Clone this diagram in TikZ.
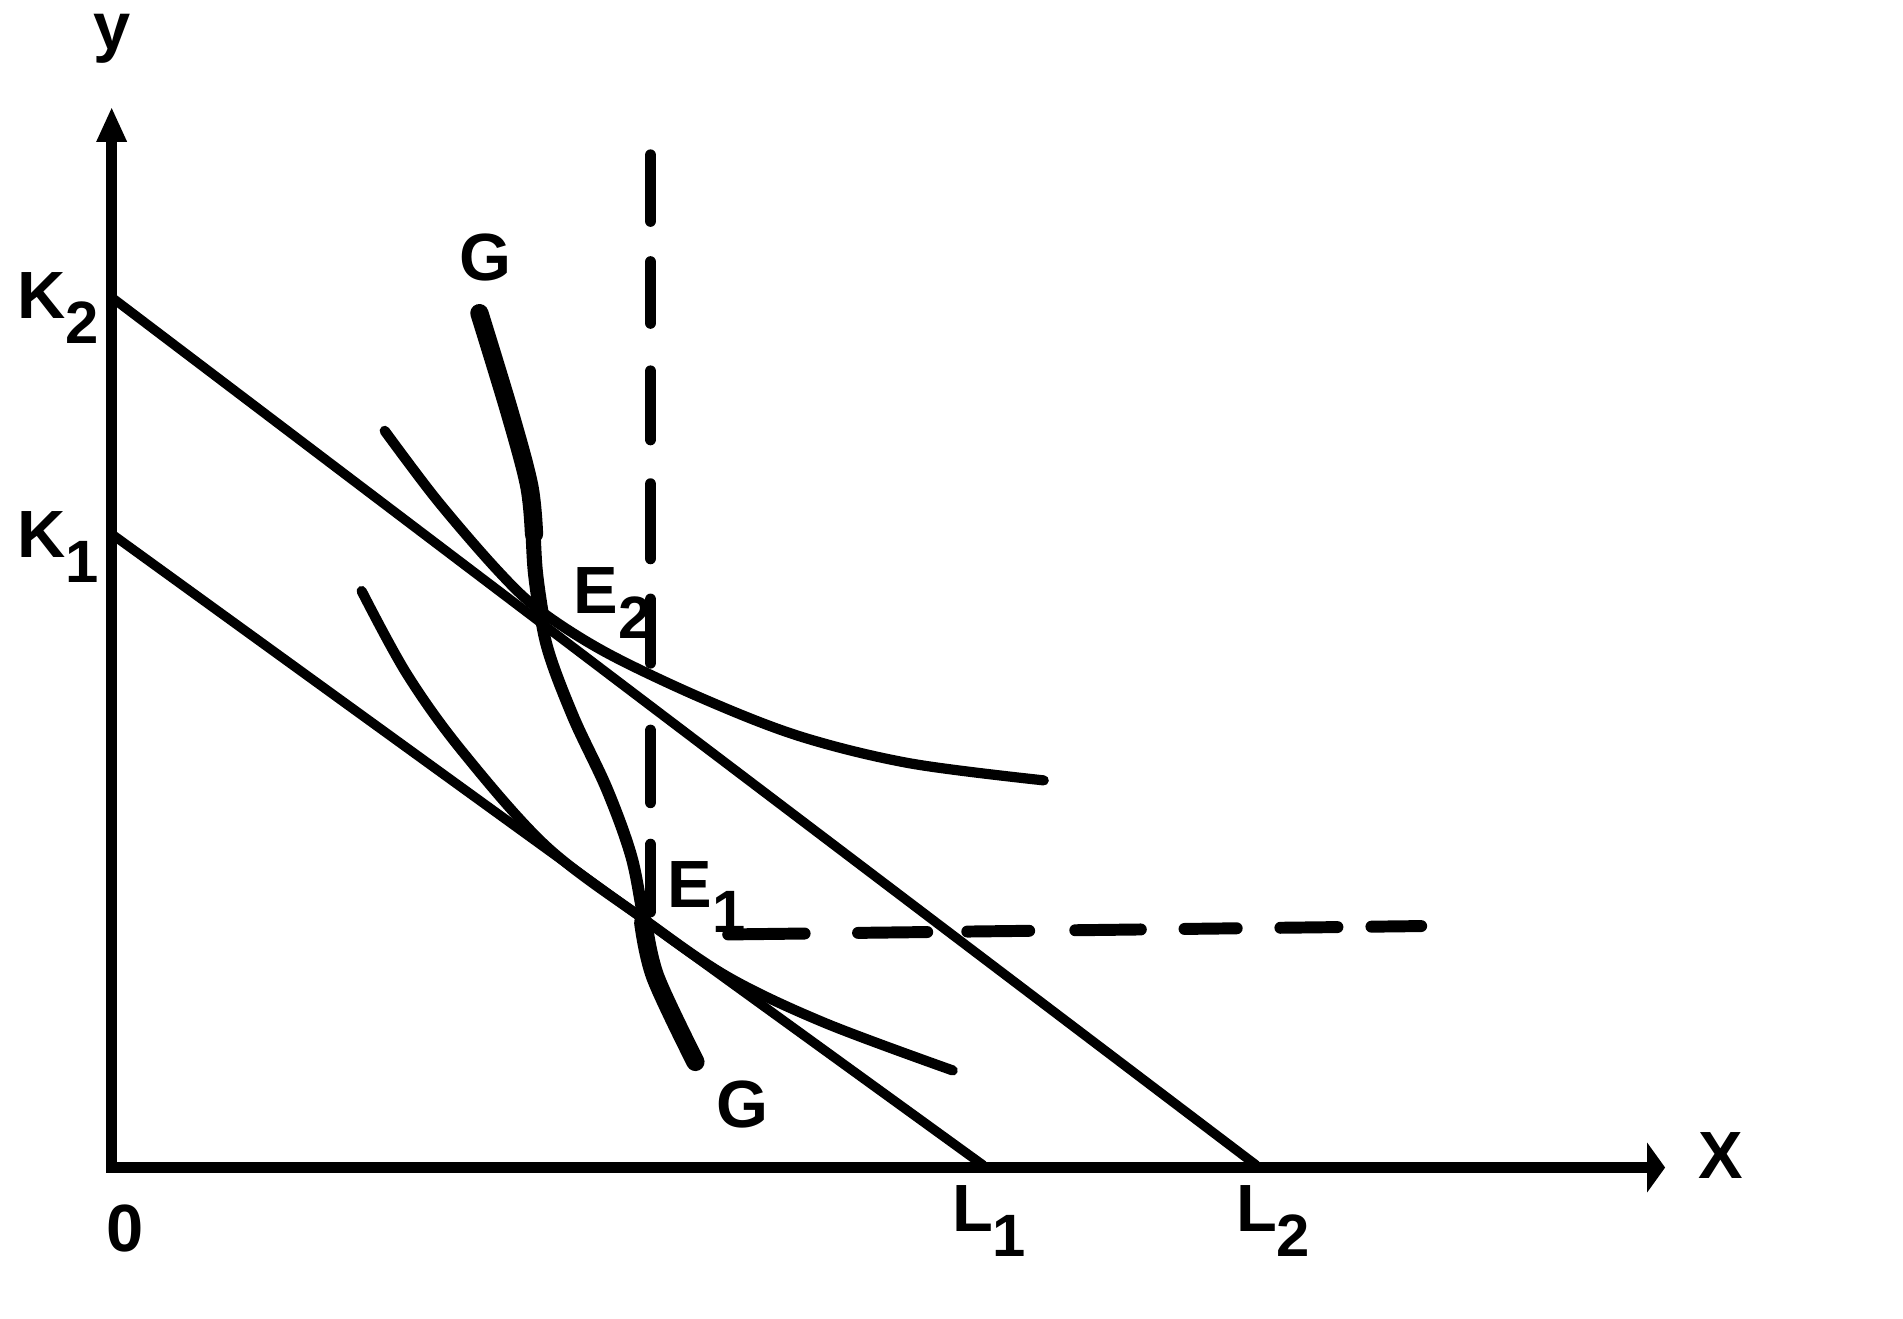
\documentclass[tikz,border=0pt]{standalone}
\usepackage{fontspec}
\setmainfont{Liberation Sans}
\usetikzlibrary{arrows.meta}
\newcommand\subsc[1]{\raisebox{-0.7ex}{\fontsize{17}{17}\selectfont #1}}
\begin{document}
\begin{tikzpicture}[x=0.012136cm,y=-0.012136cm,
  lbl/.style={font=\fontsize{19}{19}\selectfont\bfseries, inner sep=0pt},
  axis/.style={line width=3.2pt, line join=miter},
  budget/.style={line width=2.7pt, line cap=round},
  iso/.style={line width=2.9pt, line cap=round},
  gcurve/.style={line width=3.4pt, line cap=round},
  gmid/.style={line width=4.3pt, line cap=round},
  gthick/.style={line width=5.2pt, line cap=round},
  guide/.style={line width=3.4pt, line cap=round}]
\useasboundingbox (0,0) rectangle (1568,1086);
% axes
\coordinate (O) at (92,962);
\coordinate (Ytip) at (92,88);
\coordinate (Xtip) at (1372,962);
\draw[axis, {Triangle[length=0.35cm,width=0.28cm]}-{Triangle[length=0.18cm,width=0.49cm]}] (Ytip) -- (O) -- (Xtip);
% budget lines
\coordinate (K2pt) at (92,245);
\coordinate (K1pt) at (92,440);
\coordinate (L1pt) at (810,960);
\coordinate (L2pt) at (1035,960);
\draw[budget] (K2pt) -- (L2pt);
\draw[budget] (K1pt) -- (L1pt);
% upper isoquant
\draw[iso] plot[smooth, tension=0.55] coordinates {(317,355) (360,412) (410,470) (445,503) (500,538) (580,576) (660,607) (750,629) (860,643)};
% lower isoquant
\draw[iso] plot[smooth, tension=0.55] coordinates {(298,487) (335,555) (380,618) (450,697) (530,757) (600,805) (680,843) (785,882)};
% G curve
\draw[gcurve] plot[smooth, tension=0.55] coordinates {(395,258) (420,340) (436,400) (441,470) (450,530) (472,590) (500,650) (520,705) (530,755) (540,805) (573,875)};
\draw[gmid] plot[smooth, tension=0.55] coordinates {(420,340) (436,400) (441,470) (447,512)};
\draw[gthick] plot[smooth, tension=0.55] coordinates {(395,258) (420,340) (436,400) (440,440)};
\draw[gthick] plot[smooth, tension=0.55] coordinates {(530,760) (540,805) (573,875)};
% vertical guide
\foreach \a/\b in {128/182, 216/266, 306/362, 399/460, 494/546, 602/661, 696/751}
  \draw[guide] (536,\a) -- (536,\b);
% horizontal guide
\foreach \a/\b in {600/663, 707/764, 797/848, 886/940, 976/1019, 1055/1102, 1130/1171}
  \draw[guide] (\a,{770-7*(\a-596)/579}) -- (\b,{770-7*(\b-596)/579});
% labels
\node[lbl] (ylab) at (92,32) {y};
\node[lbl] (xlab) at (1418,952) {X};
\node[lbl] (olab) at (103,1012) {0};
\node[lbl] (k2lab) at (48,254) {K\subsc{2}};
\node[lbl] (k1lab) at (48,451) {K\subsc{1}};
\node[lbl] (l1lab) at (815,1006) {L\subsc{1}};
\node[lbl] (l2lab) at (1049,1006) {L\subsc{2}};
\node[lbl] (e2lab) at (505,497) {E\subsc{2}};
\node[lbl] (e1lab) at (582,739) {E\subsc{1}};
\node[lbl] (gtop) at (400,212) {G};
\node[lbl] (gbot) at (612,910) {G};
\end{tikzpicture}
\end{document}
